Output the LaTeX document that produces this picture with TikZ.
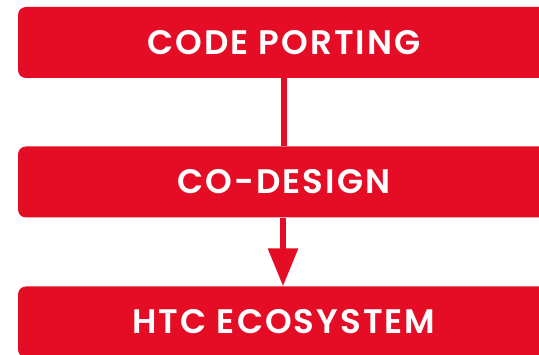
\documentclass[tikz,border=0pt]{standalone}
\usepackage{fontspec}
\newfontfamily\stagefont[LetterSpace=6]{Poppins SemiBold}
\usetikzlibrary{arrows.meta}
\definecolor{brandred}{RGB}{229,13,38}
\tikzset{
  stagebox/.style={fill=brandred, draw=none, rounded corners=8pt,
    minimum width=532pt, minimum height=71pt, inner sep=0pt,
    text=white, font=\fontsize{34}{34}\stagefont},
  link/.style={draw=brandred, line width=6pt},
  linkarrow/.style={link, -{Triangle[width=29pt,length=38pt]}}
}
\begin{document}
\begin{tikzpicture}[x=1pt,y=-1pt]
  \clip (0,0) rectangle (539,355);
  \fill[white] (0,0) rectangle (539,355);
  \node[stagebox] (port)   at (284,42.5) {CODE PORTING};
  \node[stagebox] (codes)  at (284,182)  {CO-DESIGN};
  \node[stagebox] (eco)    at (284,322)  {HTC ECOSYSTEM};
  \draw[link] (port.south) -- (codes.north);
  \draw[linkarrow] ([xshift=-1pt]codes.south) -- ([xshift=-1pt]eco.north);
\end{tikzpicture}
\end{document}
